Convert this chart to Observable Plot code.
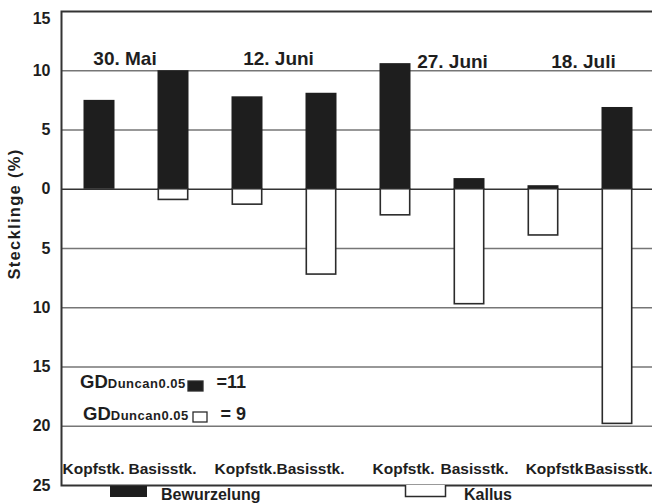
<!DOCTYPE html>
<html>
<head>
<meta charset="utf-8">
<script src="https://cdn.jsdelivr.net/npm/d3@7"></script>
<script src="https://cdn.jsdelivr.net/npm/@observablehq/plot@0.6"></script>
<style>
  body { margin: 0; background: #fff; }
  #chart svg { display: block; }
</style>
</head>
<body>
<div id="chart"></div>
<script>
// Sampling dates, two cutting types per date
const dates = ["30. Mai", "12. Juni", "27. Juni", "18. Juli"];
const cuttingLabels = ["Kopfstk.", "Basisstk.", "Kopfstk.", "Basisstk.", "Kopfstk.", "Basisstk.", "Kopfstk", "Basisstk."];
// Rooted cuttings (%) drawn upward, callus-forming cuttings (%) drawn downward
const rooting = [7.5, 10.0, 7.8, 8.1, 10.6, 0.9, 0.3, 6.9];
const callus = [0, 0.9, 1.3, 7.2, 2.2, 9.7, 3.9, 19.8];
// Axis ticks (absolute values are shown on both sides of zero)
const yTicks = [15, 10, 5, 0, -5, -10, -15, -20, -25];
// Least significant differences (Duncan, 0.05)
const gdSeries = ["Bewurzelung", "Kallus"];
const gdValues = [11, 9];
const legendLabels = ["Bewurzelung", "Kallus"];
const yLabel = "Stecklinge (%)";

const rows = rooting.map((v, i) => ({
  bar: i,
  date: dates[Math.floor(i / 2)],
  cutting: cuttingLabels[i],
  rooting: v,
  callus: callus[i]
}));

const font = "'Liberation Sans', Arial, Helvetica, sans-serif";
const ink = "#1e1e1e";
const inset = 21.5;

// horizontal nudges of the date headers and cutting labels
const dateShift = [25.5, 31, 57, 40];
const dateDrop = [0, 0, 3, 3];
const labelShift = [-6, -11, -2, -11, 8, 5, 11, 1];

const chart = Plot.plot({
  width: 652,
  height: 504,
  marginLeft: 61,
  marginRight: -2.5,
  marginTop: 11,
  marginBottom: 19,
  style: { fontFamily: font, fontWeight: "bold", fontSize: "16px", color: ink, background: "#fff" },
  x: { type: "band", domain: d3.range(rows.length), padding: 0, axis: null },
  y: { domain: [-25, 15], axis: null },
  marks: [
    Plot.ruleY(yTicks.filter(t => t !== 15 && t !== -25 && t !== 0), { stroke: "#767676", strokeWidth: 1.3 }),
    Plot.ruleY([0], { stroke: "#333", strokeWidth: 1.5 }),
    Plot.barY(rows, { x: "bar", y: "rooting", fill: ink, insetLeft: inset, insetRight: inset }),
    Plot.barY(rows.filter(d => d.callus > 0), {
      x: "bar", y: d => -d.callus, fill: "#fff", stroke: "#2b2b2b", strokeWidth: 1.6,
      insetLeft: inset + 0.8, insetRight: inset + 0.8
    }),
    Plot.frame({ stroke: "#333", strokeWidth: 2 }),
    Plot.axisY(yTicks.filter(t => t !== 15), {
      tickSize: 0, tickPadding: 11, tickFormat: d => Math.abs(d),
      fontSize: 16, fontWeight: "bold", label: null
    }),
    Plot.text([15], {
      y: d => d, frameAnchor: "left", dx: -11, dy: 7, textAnchor: "end",
      text: d => String(Math.abs(d)), fontSize: 16, fontWeight: "bold", fill: ink
    }),
    ...dates.map((d, i) => Plot.text([d], {
      x: () => 2 * i, y: () => 11, dx: dateShift[i], dy: dateDrop[i],
      fontSize: 19, fontWeight: "bold", fill: ink, lineAnchor: "middle"
    })),
    ...rows.map((r, i) => Plot.text([r], {
      x: "bar", text: "cutting", frameAnchor: "bottom", dy: -12, dx: labelShift[i],
      lineAnchor: "bottom", fontSize: 15.5, fontWeight: "bold", fill: ink
    }))
  ]
});

document.getElementById("chart").append(chart);

// Axis title, Duncan LSD values and the series legend below the frame
const svg = d3.select(chart);
const notes = svg.append("g")
  .attr("font-family", font).attr("font-weight", "bold")
  .attr("fill", ink).attr("text-anchor", "start");

notes.append("text")
  .attr("transform", "translate(19.5,214) rotate(-90)")
  .attr("text-anchor", "middle")
  .attr("font-size", 16.5)
  .attr("letter-spacing", 1.3)
  .text(yLabel);

const gdRows = [
  { x: 80, base: 388, box: [188, 381, 15, 10] },
  { x: 83, base: 420, box: [193, 412, 14, 10] }
];
gdSeries.forEach((s, i) => {
  const g = gdRows[i];
  const t = notes.append("text").attr("x", g.x).attr("y", g.base);
  t.append("tspan").attr("font-size", 18.5).text("GD");
  t.append("tspan").attr("font-size", 13).attr("letter-spacing", 0.5).text("Duncan0.05");
  notes.append("rect")
    .attr("x", g.box[0]).attr("y", g.box[1]).attr("width", g.box[2]).attr("height", g.box[3])
    .attr("fill", s === "Kallus" ? "#fff" : ink)
    .attr("stroke", "#2b2b2b").attr("stroke-width", 1.3);
  notes.append("text").attr("x", 246).attr("y", g.base).attr("text-anchor", "end")
    .attr("font-size", 18)
    .text(i === 0 ? `=${gdValues[i]}` : `= ${gdValues[i]}`);
});

// legend
notes.append("rect").attr("x", 110).attr("y", 486).attr("width", 37).attr("height", 11).attr("fill", ink);
notes.append("text").attr("x", 161).attr("y", 500).attr("font-size", 16).text(legendLabels[0]);
notes.append("path").attr("d", "M405.5,485V496.5H445.5V485")
  .attr("fill", "#fff").attr("stroke", "#2b2b2b").attr("stroke-width", 1.5);
notes.append("text").attr("x", 464).attr("y", 500).attr("font-size", 16).text(legendLabels[1]);
</script>
</body>
</html>
